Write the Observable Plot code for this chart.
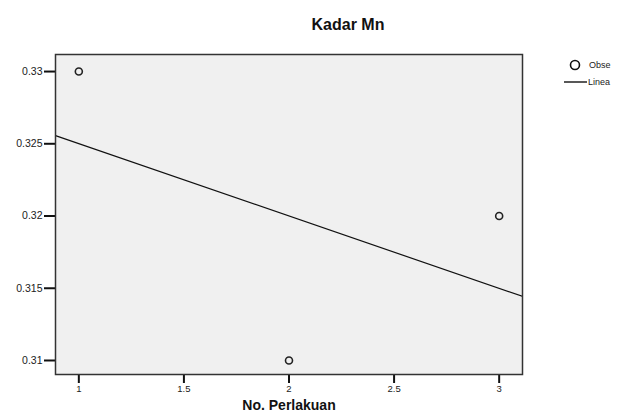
<!DOCTYPE html>
<html>
<head>
<meta charset="utf-8">
<script src="https://cdn.jsdelivr.net/npm/d3@7"></script>
<script src="https://cdn.jsdelivr.net/npm/@observablehq/plot@0.6"></script>
<style>
  html, body { margin: 0; padding: 0; background: #fff; overflow: hidden; }
  #chart { position: relative; width: 623px; height: 420px; }
</style>
</head>
<body>
<div id="chart"></div>
<script>
// Observed values
const perlakuan = [1, 2, 3];
const kadarMn = [0.33, 0.31, 0.32];
// Fitted linear line, read at the two plot edges
const fitX = [0.889, 3.111];
const fitY = [0.32556, 0.31444];
// Tick labels
const xTicks = [1, 1.5, 2, 2.5, 3];
const yTicks = [0.31, 0.315, 0.32, 0.325, 0.33];
const titleText = "Kadar Mn";
const xLabel = "No. Perlakuan";
// Legend labels as visible (truncated at the image edge in the reference)
const legendLabels = ["Obse", "Linea"];

const observed = perlakuan.map((x, i) => ({x, y: kadarMn[i]}));
const fit = fitX.map((x, i) => ({x, y: fitY[i]}));

const font = "'Liberation Sans', Arial, sans-serif";

const plot = Plot.plot({
  width: 623,
  height: 420,
  marginLeft: 55,
  marginRight: 101,
  marginTop: 54,
  marginBottom: 46,
  style: {fontFamily: font, fontSize: "10px", color: "#222", background: "#fff", overflow: "hidden"},
  x: {domain: [0.889, 3.111]},
  y: {domain: [0.30903, 0.33118]},
  marks: [
    Plot.frame({fill: "#f0f0f0", stroke: "none"}),
    Plot.axisX({ticks: xTicks, tickSize: 9, tickPadding: 2, tickFormat: d => String(d), strokeWidth: 2, stroke: "#111", label: null, fontSize: 9.5}),
    Plot.axisY({ticks: yTicks, tickSize: 11, tickPadding: 2, tickFormat: d => String(d), strokeWidth: 2, stroke: "#111", label: null, fontSize: 10.5}),
    Plot.line(fit, {x: "x", y: "y", stroke: "#111", strokeWidth: 1.2, clip: true}),
    Plot.dot(observed, {x: "x", y: "y", r: 3.5, stroke: "#222", strokeWidth: 1.6, fill: "none"}),
    Plot.frame({stroke: "#333", strokeWidth: 1.5}),
    Plot.text([titleText], {text: d => d, frameAnchor: "top", dx: 59, dy: -36, fontSize: 16, fontWeight: "bold", fill: "#111"}),
    Plot.text([xLabel], {text: d => d, frameAnchor: "bottom", dy: 35, fontSize: 14, fontWeight: "bold", fill: "#111"})
  ]
});
document.getElementById("chart").appendChild(plot);

// Legend
const svg = d3.select(plot);
const lg = svg.append("g").attr("font-family", font).attr("font-size", 9).attr("fill", "#222").attr("text-anchor", "start");
lg.append("circle").attr("cx", 575).attr("cy", 65).attr("r", 4.5).attr("fill", "none").attr("stroke", "#111").attr("stroke-width", 1.6);
lg.append("text").attr("x", 589).attr("y", 65).attr("dy", "0.35em").text(legendLabels[0]);
lg.append("line").attr("x1", 564).attr("x2", 587).attr("y1", 82).attr("y2", 82).attr("stroke", "#111").attr("stroke-width", 1.4);
lg.append("text").attr("x", 588).attr("y", 82).attr("dy", "0.35em").text(legendLabels[1]);
</script>
</body>
</html>
